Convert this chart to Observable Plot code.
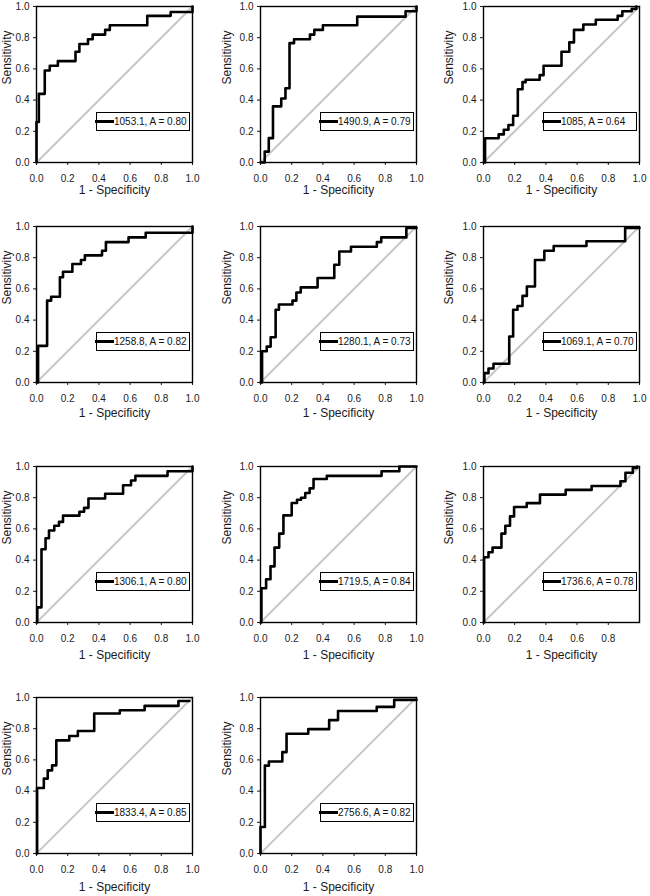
<!DOCTYPE html>
<html>
<head>
<meta charset="utf-8">
<script src="https://cdn.jsdelivr.net/npm/d3@7"></script>
<script src="https://cdn.jsdelivr.net/npm/@observablehq/plot@0.6"></script>
<style>
  html, body { margin: 0; padding: 0; background: #fff; }
  #chart { position: relative; width: 650px; height: 896px; overflow: hidden; font-family: "Liberation Sans", Arial, sans-serif; }
  .panel { position: absolute; }
  .panel svg { overflow: visible; }
  .legend { position: absolute; box-sizing: border-box; border: 1px solid #000; background: #fff;
            display: flex; align-items: center; font-size: 10px; color: #111; white-space: nowrap; }
  .legend .sw { display: inline-block; width: 19px; height: 3px; background: #000; margin-left: -2px; flex: none; }
</style>
</head>
<body>
<div id="chart"></div>
<script>
// ---- data ----
const legendLabels = ["1053.1, A = 0.80", "1490.9, A = 0.79", "1085, A = 0.64",
  "1258.8, A = 0.82", "1280.1, A = 0.73", "1069.1, A = 0.70",
  "1306.1, A = 0.80", "1719.5, A = 0.84", "1736.6, A = 0.78",
  "1833.4, A = 0.85", "2756.6, A = 0.82"];
const tickValues = [0, 0.2, 0.4, 0.6, 0.8, 1.0];
const tickValuesShort = [0, 0.2, 0.4, 0.6, 0.8];
const xLabel = "1 - Specificity";
const yLabel = "Sensitivity";
const diagonal = [0, 1];

const fpr1 = [0, 0, 0.015, 0.053, 0.085, 0.137, 0.25, 0.275, 0.33, 0.36, 0.44, 0.47, 0.71, 0.86, 1.0, 1.0];
const tpr1 = [0, 0.26, 0.44, 0.59, 0.62, 0.65, 0.71, 0.76, 0.79, 0.82, 0.85, 0.88, 0.94, 0.965, 0.965, 1.0];
const fpr2 = [0, 0.027, 0.053, 0.08, 0.133, 0.16, 0.186, 0.215, 0.317, 0.345, 0.40, 0.62, 0.93, 1.0, 1.0];
const tpr2 = [0, 0.07, 0.156, 0.36, 0.41, 0.476, 0.765, 0.79, 0.82, 0.85, 0.88, 0.935, 0.97, 0.97, 1.0];
const fpr3 = [0, 0.01, 0.097, 0.13, 0.16, 0.19, 0.22, 0.25, 0.27, 0.36, 0.385, 0.50, 0.55, 0.58, 0.64, 0.72, 0.86, 0.89, 0.95, 0.98];
const tpr3 = [0, 0.155, 0.18, 0.21, 0.24, 0.30, 0.47, 0.515, 0.53, 0.56, 0.62, 0.71, 0.77, 0.85, 0.885, 0.915, 0.94, 0.97, 0.985, 1.0];
const fpr4 = [0, 0.01, 0.068, 0.094, 0.15, 0.17, 0.23, 0.285, 0.31, 0.42, 0.445, 0.59, 0.70, 1.0];
const tpr4 = [0, 0.235, 0.525, 0.55, 0.675, 0.71, 0.76, 0.785, 0.815, 0.845, 0.90, 0.93, 0.96, 1.0];
const fpr5 = [0, 0.01, 0.04, 0.065, 0.097, 0.118, 0.205, 0.23, 0.258, 0.366, 0.473, 0.505, 0.58, 0.746, 0.774, 0.935, 1.0];
const tpr5 = [0, 0.20, 0.23, 0.29, 0.466, 0.50, 0.525, 0.577, 0.61, 0.67, 0.755, 0.84, 0.87, 0.90, 0.93, 0.99, 0.99];
const fpr6 = [0, 0.006, 0.032, 0.064, 0.165, 0.19, 0.218, 0.25, 0.278, 0.33, 0.39, 0.45, 0.66, 0.908, 1.0];
const tpr6 = [0, 0.06, 0.09, 0.12, 0.295, 0.466, 0.49, 0.555, 0.615, 0.785, 0.845, 0.875, 0.905, 0.99, 0.99];
const fpr7 = [0, 0.005, 0.032, 0.058, 0.08, 0.114, 0.144, 0.17, 0.275, 0.305, 0.333, 0.44, 0.555, 0.606, 0.634, 0.84, 1.0];
const tpr7 = [0, 0.097, 0.47, 0.54, 0.59, 0.62, 0.645, 0.685, 0.71, 0.735, 0.795, 0.825, 0.88, 0.91, 0.94, 0.97, 1.0];
const fpr8 = [0, 0.006, 0.036, 0.064, 0.09, 0.12, 0.147, 0.20, 0.234, 0.26, 0.287, 0.315, 0.34, 0.425, 0.776, 0.89, 1.0];
const tpr8 = [0, 0.22, 0.277, 0.36, 0.48, 0.57, 0.687, 0.766, 0.787, 0.80, 0.83, 0.86, 0.92, 0.94, 0.97, 1.0, 1.0];
const fpr9 = [0, 0.004, 0.032, 0.058, 0.115, 0.14, 0.17, 0.196, 0.277, 0.362, 0.527, 0.693, 0.878, 0.91, 0.957, 0.985];
const tpr9 = [0, 0.418, 0.45, 0.48, 0.57, 0.62, 0.68, 0.74, 0.765, 0.82, 0.85, 0.875, 0.905, 0.96, 0.99, 1.0];
const fpr10 = [0, 0.004, 0.047, 0.072, 0.10, 0.127, 0.21, 0.265, 0.37, 0.534, 0.693, 0.91, 0.98];
const tpr10 = [0, 0.42, 0.48, 0.533, 0.565, 0.725, 0.753, 0.785, 0.897, 0.918, 0.946, 0.978, 0.978];
const fpr11 = [0, 0, 0.028, 0.054, 0.14, 0.167, 0.306, 0.44, 0.497, 0.745, 0.857, 1.0];
const tpr11 = [0, 0.17, 0.563, 0.59, 0.65, 0.768, 0.797, 0.855, 0.913, 0.94, 0.985, 0.985];

const fprs = [fpr1, fpr2, fpr3, fpr4, fpr5, fpr6, fpr7, fpr8, fpr9, fpr10, fpr11];
const tprs = [tpr1, tpr2, tpr3, tpr4, tpr5, tpr6, tpr7, tpr8, tpr9, tpr10, tpr11];

// ---- layout (frame positions on the page) ----
const colLefts = [36, 260, 483];
const rowTops = [6, 226, 466, 697];
const rowXLabelOffsets = [31, 34, 36, 37];
const colYLabelOffsets = [-29, -33, -34];
const SIZE = 156, ML = 42, MT = 6, MR = 8, MB = 44;
const fmt = d3.format(".1f");
const font = "'Liberation Sans', Arial, sans-serif";

const chart = document.getElementById("chart");
fprs.forEach((fpr, i) => {
  const tpr = tprs[i];
  const roc = fpr.map((x, j) => ({x, y: tpr[j]}));
  const diag = diagonal.map(v => ({x: v, y: v}));
  const col = i % 3, row = Math.floor(i / 3);
  const plot = Plot.plot({
    width: ML + SIZE + MR,
    height: MT + SIZE + MB,
    marginLeft: ML, marginTop: MT, marginRight: MR, marginBottom: MB,
    style: {fontFamily: font, fontSize: "10px", color: "#1a1a1a", background: "transparent", overflow: "visible"},
    x: {domain: [0, 1], ticks: i === 8 ? tickValuesShort : tickValues, tickFormat: fmt, tickSize: 3, tickPadding: 9, label: null},
    y: {domain: [0, 1], ticks: tickValues, tickFormat: fmt, tickSize: 3, tickPadding: 4, label: null},
    marks: [
      Plot.line(diag, {x: "x", y: "y", stroke: "#c8c8c8", strokeWidth: 2}),
      Plot.line(roc, {x: "x", y: "y", curve: "step-after", stroke: "#000", strokeWidth: 2.6}),
      Plot.frame({stroke: "#000", strokeWidth: 1.4}),
      Plot.text([xLabel], {text: d => d, frameAnchor: "bottom", dy: rowXLabelOffsets[row], fontSize: 12, fill: "#1a1a1a"}),
      Plot.text([yLabel], {text: d => d, frameAnchor: "left", dx: colYLabelOffsets[col], rotate: -90, fontSize: 12, fill: "#1a1a1a"})
    ]
  });
  const panel = document.createElement("div");
  panel.className = "panel";
  panel.style.left = (colLefts[col] - ML) + "px";
  panel.style.top = (rowTops[row] - MT) + "px";
  panel.appendChild(plot);
  const lg = document.createElement("div");
  lg.className = "legend";
  lg.style.left = (ML + 60) + "px";
  lg.style.top = (MT + 106) + "px";
  lg.style.width = "94px";
  lg.style.height = "19px";
  const sw = document.createElement("span");
  sw.className = "sw";
  const tx = document.createElement("span");
  tx.textContent = legendLabels[i];
  lg.appendChild(sw);
  lg.appendChild(tx);
  panel.appendChild(lg);
  chart.appendChild(panel);
});
</script>
</body>
</html>
